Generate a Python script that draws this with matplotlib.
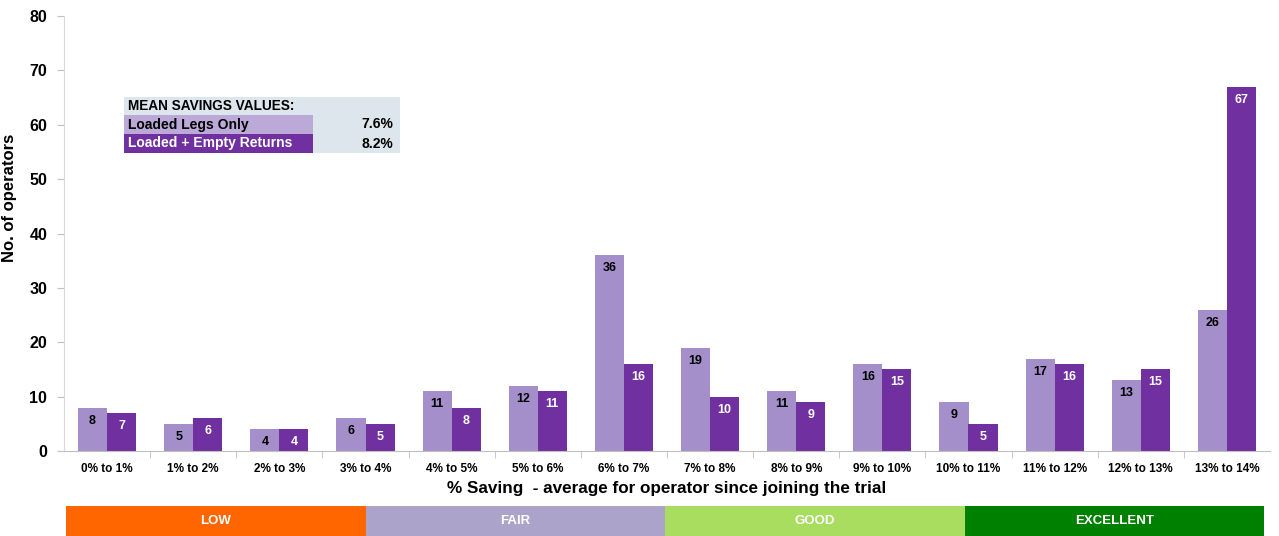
import matplotlib
matplotlib.use("Agg")
import matplotlib.pyplot as plt
from matplotlib.patches import Rectangle
import numpy as np

plt.rcParams['font.family'] = ['Liberation Sans', 'DejaVu Sans']

categories = ["0% to 1%", "1% to 2%", "2% to 3%", "3% to 4%", "4% to 5%", "5% to 6%",
              "6% to 7%", "7% to 8%", "8% to 9%", "9% to 10%", "10% to 11%",
              "11% to 12%", "12% to 13%", "13% to 14%"]
loaded_legs = [8, 5, 4, 6, 11, 12, 36, 19, 11, 16, 9, 17, 13, 26]
loaded_empty = [7, 6, 4, 5, 8, 11, 16, 10, 9, 15, 5, 16, 15, 67]

mean_labels = ["Loaded Legs Only", "Loaded + Empty Returns"]
mean_values = ["7.6%", "8.2%"]

bands = ["LOW", "FAIR", "GOOD", "EXCELLENT"]
band_colors = ["#FF6600", "#ABA3C9", "#A8DD5F", "#008000"]

light = "#A48FCB"
dark = "#7030A0"

W, H = 1279, 536
fig = plt.figure(figsize=(W / 100, H / 100), dpi=100)

def fx(px):
    return px / W

def fy(py):
    return 1 - py / H

ax_l, ax_r, ax_t, ax_b = 64, 1270, 16, 451
ax = fig.add_axes([fx(ax_l), fy(ax_b), fx(ax_r) - fx(ax_l), fy(ax_t) - fy(ax_b)])
x = np.arange(len(categories))
bw = 0.337
b1 = ax.bar(x - bw / 2, loaded_legs, bw, color=light, zorder=2)
b2 = ax.bar(x + bw / 2, loaded_empty, bw, color=dark, zorder=2)

for rect, v in zip(b1, loaded_legs):
    ax.annotate(str(v), (rect.get_x() + rect.get_width() / 2, v), xytext=(0, -13),
                textcoords="offset pixels", ha="center", va="center",
                fontsize=9, fontweight="bold", color="black")
for rect, v in zip(b2, loaded_empty):
    ax.annotate(str(v), (rect.get_x() + rect.get_width() / 2, v), xytext=(0, -13),
                textcoords="offset pixels", ha="center", va="center",
                fontsize=9, fontweight="bold", color="white")

ax.set_xlim(-0.5, len(categories) - 0.5)
ax.set_ylim(0, 80)
ax.set_yticks(np.arange(0, 81, 10))
ax.set_xticks(x)
ax.set_xticklabels(categories, fontsize=8.5, fontweight="bold")
ax.set_xticks(np.arange(0.5, len(categories) - 0.5, 1), minor=True)
ax.tick_params(axis="x", which="major", length=0, pad=9)
ax.tick_params(axis="x", which="minor", length=5, color="#BFBFBF", direction="out")
ax.tick_params(axis="y", length=5, color="#BFBFBF", labelsize=11.5, pad=7)
for lab in ax.get_yticklabels():
    lab.set_fontweight("bold")

for s in ["top", "right"]:
    ax.spines[s].set_visible(False)
ax.spines["left"].set_color("#D9D9D9")
ax.spines["bottom"].set_color("#BFBFBF")

ax.set_ylabel("No. of operators", fontsize=12, fontweight="bold")
ax.yaxis.set_label_coords((17 - ax_l) / (ax_r - ax_l), (ax_b - 198) / (ax_b - ax_t))
ax.set_xlabel("% Saving  - average for operator since joining the trial",
              fontsize=12.3, fontweight="bold", labelpad=4)

# mean savings panel
box_l, box_r = 124, 400
rows = [97, 115, 134, 153]
fig.add_artist(Rectangle((fx(box_l), fy(rows[3])), fx(box_r) - fx(box_l),
                         fy(rows[0]) - fy(rows[3]), transform=fig.transFigure,
                         facecolor="#DCE6EC", edgecolor="none"))
row_fills = ["#BBA9D8", dark]
row_text = ["black", "white"]
for i in range(2):
    top, bot = rows[i + 1], rows[i + 2]
    fig.add_artist(Rectangle((fx(box_l), fy(bot)), fx(313) - fx(box_l), fy(top) - fy(bot),
                             transform=fig.transFigure, facecolor=row_fills[i],
                             edgecolor="none"))
    yc = fy((top + bot) / 2)
    fig.text(fx(128), yc, mean_labels[i], fontsize=10, fontweight="bold",
             color=row_text[i], va="center", ha="left")
    fig.text(fx(393), yc, mean_values[i], fontsize=10, fontweight="bold",
             color="black", va="center", ha="right")
fig.text(fx(128), fy((rows[0] + rows[1]) / 2), "MEAN SAVINGS VALUES:", fontsize=9.8,
         fontweight="bold", color="black", va="center", ha="left")

# rating band under the axis
bx = fig.add_axes([fx(66), 0, fx(1264) - fx(66), fy(506)])
for i, (name, col) in enumerate(zip(bands, band_colors)):
    bx.add_patch(Rectangle((i, 0), 1, 1, facecolor=col, edgecolor="none"))
    bx.text(i + 0.5, 0.5, name, ha="center", va="center", color="white",
            fontsize=9.5, fontweight="bold")
bx.set_xlim(0, len(bands))
bx.set_ylim(0, 1)
bx.axis("off")

fig.savefig("out.png", dpi=100)
